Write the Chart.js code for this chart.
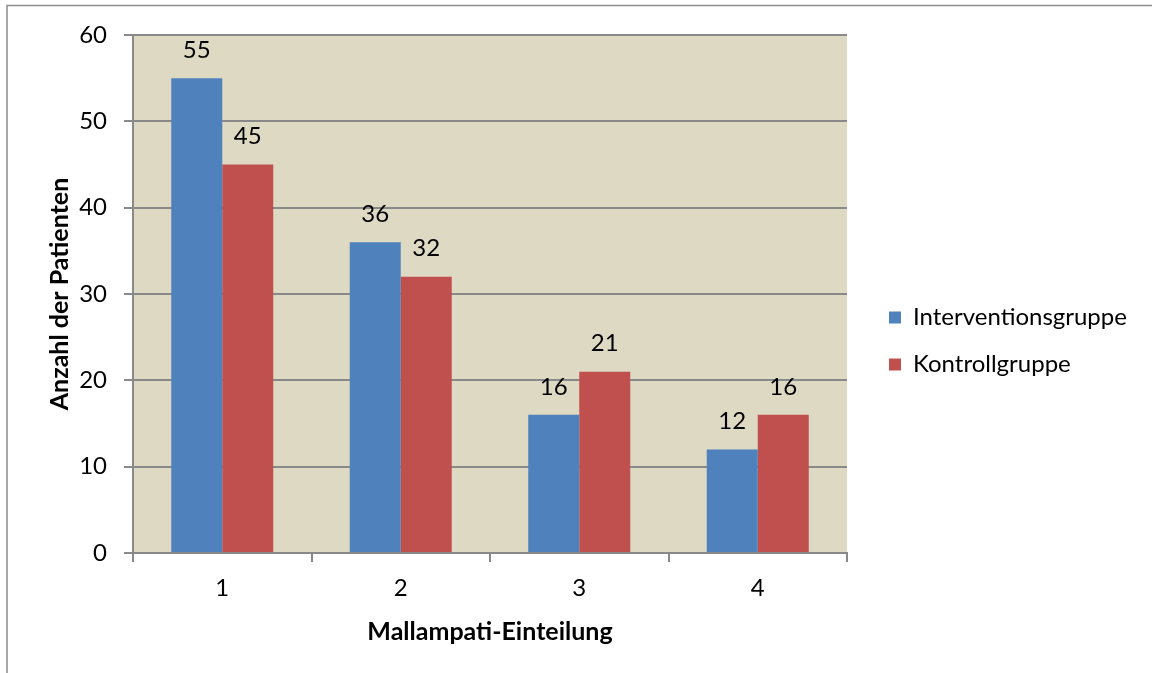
<!DOCTYPE html>
<html>
<head>
<meta charset="utf-8">
<script src="https://cdn.jsdelivr.net/npm/chart.js@4/dist/chart.umd.min.js"></script>
<style>
  html, body { margin: 0; padding: 0; background: #ffffff; }
  #wrap { width: 1152px; height: 673px; position: relative; }
</style>
</head>
<body>
<div id="wrap"><canvas id="chart" width="1152" height="673"></canvas></div>
<script>
// Mallampati classes and patient counts per group
const categories = ['1', '2', '3', '4'];
const interventionsgruppe = [55, 36, 16, 12];
const kontrollgruppe = [45, 32, 21, 16];
const yTicks = [0, 10, 20, 30, 40, 50, 60];

const FONT = 'Lato';
const TXT = '#000000';
const GRID = '#898989';
const TICK_SIZE = 24;
const TITLE_SIZE = 25;
const LEGEND_SIZE = 24;
const LEGEND_PAD = 23;
const LEGEND_BOX = 12;
const RIGHT_GAP = 19;

// plot background and the outer frame
const framePlugin = {
  id: 'frame',
  beforeDraw(chart) {
    const {ctx, chartArea: a} = chart;
    ctx.save();
    ctx.fillStyle = '#ffffff';
    ctx.fillRect(0, 0, chart.width, chart.height);
    ctx.fillStyle = '#DDD9C3';
    ctx.fillRect(a.left, a.top, a.right - a.left, a.bottom - a.top);
    ctx.strokeStyle = '#8c8c8c';
    ctx.lineWidth = 1.5;
    ctx.beginPath();
    ctx.moveTo(7, chart.height + 5);
    ctx.lineTo(7, 5.5);
    ctx.lineTo(chart.width + 5, 5.5);
    ctx.stroke();
    ctx.restore();
  }
};

// value labels above each bar
const valueLabels = {
  id: 'valueLabels',
  afterDatasetsDraw(chart) {
    const {ctx} = chart;
    ctx.save();
    ctx.font = TICK_SIZE + 'px ' + FONT;
    ctx.fillStyle = TXT;
    ctx.textAlign = 'center';
    ctx.textBaseline = 'middle';
    chart.data.datasets.forEach((ds, i) => {
      chart.getDatasetMeta(i).data.forEach((bar, j) => {
        ctx.fillText(String(ds.data[j]), bar.x, bar.y - 28);
      });
    });
    ctx.restore();
  }
};

function build() {
  // measure the widest legend label so the plot keeps its right edge
  const mctx = document.createElement('canvas').getContext('2d');
  mctx.font = LEGEND_SIZE + 'px ' + FONT;
  const labelW = Math.max(mctx.measureText('Interventionsgruppe').width,
                          mctx.measureText('Kontrollgruppe').width);
  const legendW = LEGEND_PAD + LEGEND_BOX + LEGEND_SIZE / 2 + labelW + 10;
  const padRight = Math.max(0, 1152 - 847 - RIGHT_GAP - legendW);

  new Chart(document.getElementById('chart'), {
    type: 'bar',
    data: {
      labels: categories,
      datasets: [
        { label: 'Interventionsgruppe', data: interventionsgruppe, backgroundColor: '#4F81BD', borderWidth: 0 },
        { label: 'Kontrollgruppe', data: kontrollgruppe, backgroundColor: '#C0504D', borderWidth: 0 }
      ]
    },
    options: {
      responsive: false,
      animation: false,
      devicePixelRatio: 1,
      categoryPercentage: 0.5714,
      barPercentage: 1,
      layout: { padding: { left: 45, top: 35, right: padRight, bottom: 26 } },
      plugins: {
        tooltip: { enabled: false },
        legend: {
          position: 'right',
          align: 'center',
          maxWidth: 500,
          labels: {
            boxWidth: LEGEND_BOX,
            boxHeight: LEGEND_BOX,
            padding: LEGEND_PAD,
            color: TXT,
            font: { family: FONT, size: LEGEND_SIZE }
          }
        }
      },
      scales: {
        x: {
          offset: true,
          grid: { offset: true, drawOnChartArea: false, drawTicks: true, tickLength: 9, color: GRID, lineWidth: 2 },
          border: { display: true, color: GRID, width: 2 },
          ticks: { color: TXT, padding: 12, font: { family: FONT, size: TICK_SIZE } },
          title: { display: true, text: 'Mallampati-Einteilung', color: TXT, padding: 0, font: { family: FONT, size: TITLE_SIZE, weight: 'bold' } },
          afterFit(s) { s.height = 94; }
        },
        y: {
          min: 0,
          max: 60,
          afterBuildTicks(s) { s.ticks = yTicks.map(v => ({ value: v })); },
          grid: { color: GRID, lineWidth: 2, drawTicks: true, tickLength: 9 },
          border: { display: true, color: GRID, width: 2 },
          ticks: { color: TXT, padding: 17, font: { family: FONT, size: TICK_SIZE } },
          title: { display: true, text: 'Anzahl der Patienten', color: TXT, padding: 0, font: { family: FONT, size: TITLE_SIZE, weight: 'bold' } },
          afterFit(s) { s.width = 88; }
        },
        gap: {
          type: 'linear',
          position: 'right',
          display: true,
          grid: { display: false },
          border: { display: false },
          ticks: { display: false },
          afterFit(s) { s.width = RIGHT_GAP; }
        }
      }
    },
    plugins: [framePlugin, valueLabels]
  });
}

if (document.fonts && document.fonts.load) {
  Promise.all([
    document.fonts.load(LEGEND_SIZE + 'px ' + FONT),
    document.fonts.load('bold ' + TITLE_SIZE + 'px ' + FONT)
  ]).then(build, build);
} else {
  build();
}
</script>
</body>
</html>
